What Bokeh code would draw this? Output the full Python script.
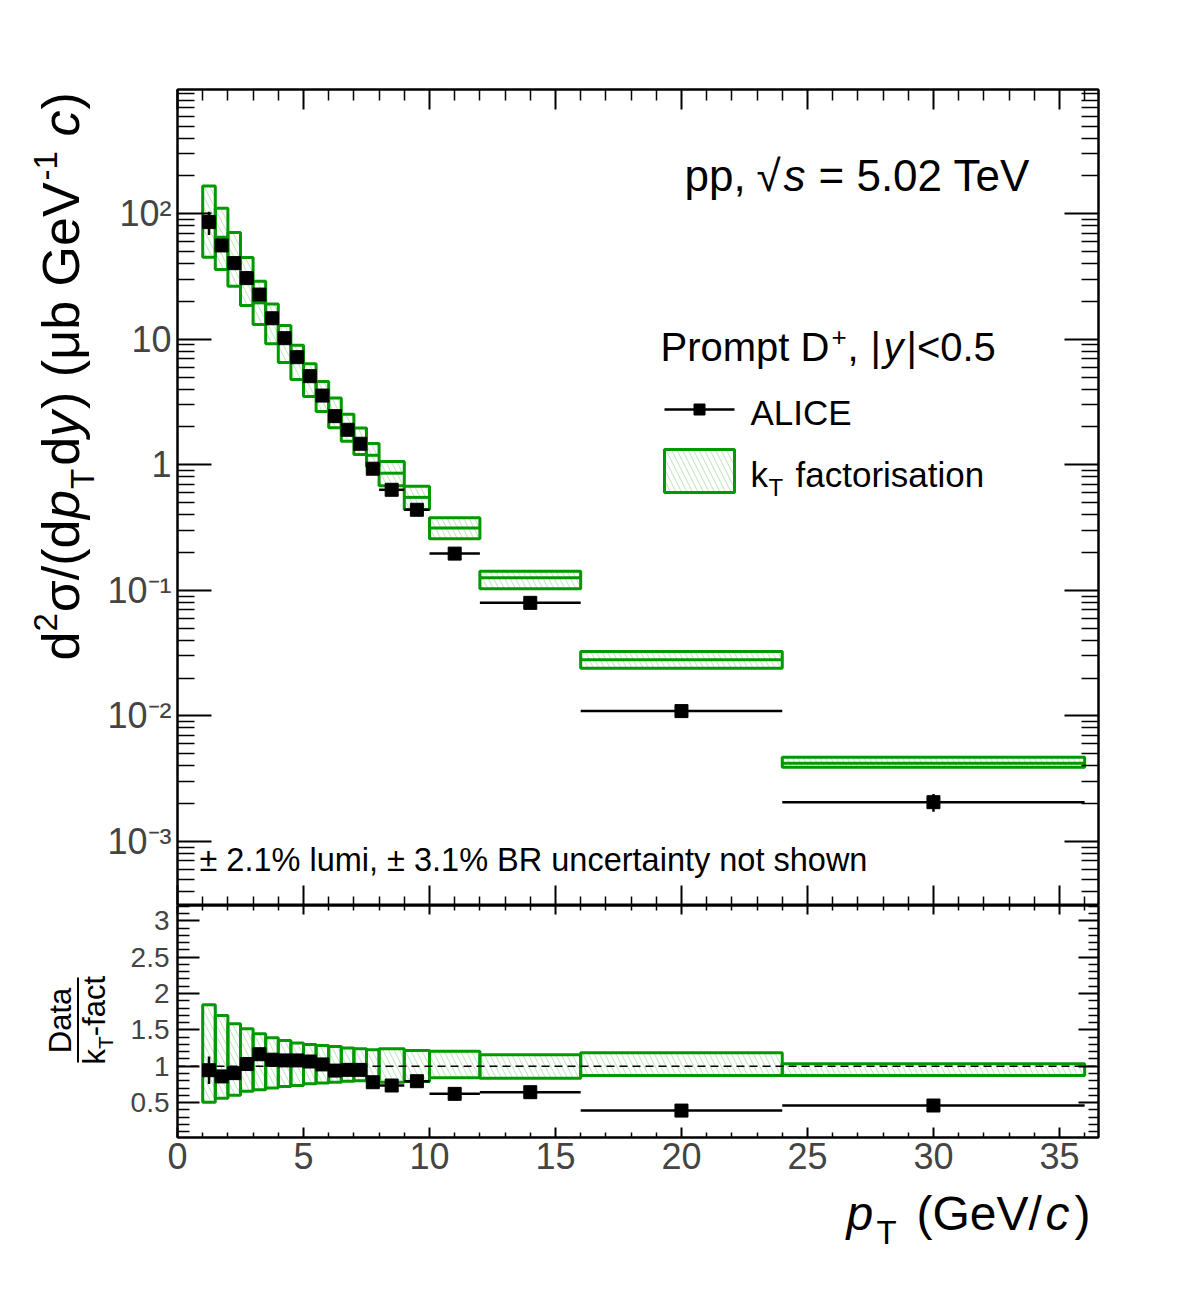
import numpy as np
from bokeh.plotting import figure
from bokeh.layouts import column, row
from bokeh.models import (ColumnDataSource, Range1d, LinearAxis, LogAxis, FixedTicker,
                          CustomJSTickFormatter, Label, Span, BoxAnnotation)
from bokeh.embed import file_html
from bokeh.resources import INLINE

# ---------------------------------------------------------------- data
# pT bins (GeV/c)
pt_low = [1.0, 1.5, 2.0, 2.5, 3.0, 3.5, 4.0, 4.5, 5.0, 5.5, 6.0, 6.5, 7.0, 7.5,
          8.0, 9.0, 10.0, 12.0, 16.0, 24.0]
pt_high = [1.5, 2.0, 2.5, 3.0, 3.5, 4.0, 4.5, 5.0, 5.5, 6.0, 6.5, 7.0, 7.5, 8.0,
           9.0, 10.0, 12.0, 16.0, 24.0, 36.0]

# ALICE prompt D+ cross section (mub GeV^-1 c) and statistical uncertainty
alice = [85.8, 55.9, 40.4, 30.7, 22.7, 14.7, 10.2, 7.2, 5.08, 3.56, 2.44, 1.90,
         1.47, 0.93, 0.632, 0.438, 0.196, 0.0794, 0.0109, 0.00205]
alice_err = [18.0, 3.5, 2.0, 1.4, 1.0, 0.6, 0.4, 0.3, 0.2, 0.15, 0.1, 0.08,
             0.06, 0.05, 0.03, 0.02, 0.01, 0.004, 0.0009, 0.00033]

# kT-factorisation prediction: central value and uncertainty band
kt_central = [90.8, 65.0, 44.6, 29.8, 19.5, 13.5, 9.44, 6.67, 4.77, 3.47, 2.60,
              2.0, 1.55, 1.19, 0.857, 0.55, 0.313, 0.126, 0.0279, 0.00419]
kt_high = [166.0, 110.8, 70.9, 44.9, 29.0, 19.1, 12.9, 8.97, 6.38, 4.61, 3.40,
           2.53, 1.96, 1.48, 1.06, 0.675, 0.378, 0.142, 0.0325, 0.00468]
kt_low = [45.1, 36.0, 26.4, 18.6, 13.1, 9.2, 6.53, 4.79, 3.50, 2.66, 1.97, 1.54,
          1.21, 0.97, 0.68, 0.44, 0.257, 0.1028, 0.0239, 0.00389]

# Data / kT-fact ratio and the relative model band
ratio = [0.945, 0.86, 0.905, 1.03, 1.165, 1.09, 1.08, 1.08, 1.065, 1.025, 0.94,
         0.95, 0.95, 0.78, 0.735, 0.794, 0.62, 0.643, 0.39, 0.46]
ratio_err = [0.19, 0.05, 0.045, 0.045, 0.05, 0.045, 0.04, 0.04, 0.04, 0.04, 0.04,
             0.04, 0.04, 0.04, 0.03, 0.03, 0.03, 0.03, 0.02, 0.07]
band_high = [1.845, 1.697, 1.583, 1.514, 1.446, 1.39, 1.353, 1.32, 1.30, 1.285,
             1.27, 1.25, 1.24, 1.225, 1.24, 1.216, 1.206, 1.157, 1.184, 1.033]
band_low = [0.505, 0.56, 0.60, 0.655, 0.675, 0.70, 0.72, 0.735, 0.76, 0.77, 0.78,
            0.795, 0.80, 0.81, 0.78, 0.79, 0.84, 0.835, 0.872, 0.872]

x_ticks = [0, 5, 10, 15, 20, 25, 30, 35]
y_ticks = [1e-3, 1e-2, 1e-1, 1, 10, 100]
r_ticks = [0.5, 1.0, 1.5, 2.0, 2.5, 3.0]

# ---------------------------------------------------------------- layout
W, H = 1182, 1294
FL, FR = 177, 1098            # frame left / right (page px)
T_TOP, T_BOT = 89, 905        # upper pad frame
R_TOP, R_BOT = 905, 1137      # lower pad frame
R_FIG_H = 278                 # lower pad canvas height
LT_W, LB_W = 102, 120         # title strips left of the pads
X_MAX = 36.55
Y_MIN, Y_MAX = 3.08e-4, 977.0
R_MIN, R_MAX = 0.02, 3.21
GREEN = "#009900"
HATCH = "#7fcf7f"
FONT = "Liberation Sans"
BASE_SHIFT = 0.38             # alphabetic-baseline correction, in font sizes
V = np.pi / 2


def xd(px):
    return (px - FL) / (FR - FL) * X_MAX


def yd_top(py):
    lmax, lmin = np.log10(Y_MAX), np.log10(Y_MIN)
    return 10 ** (lmax - (py - T_TOP) / (T_BOT - T_TOP) * (lmax - lmin))


def ident(v):
    return v


def frame_axis(cls, ticks, minor, major_len, minor_len, label_px=None,
               formatter=None, standoff=8):
    ax = cls(ticker=FixedTicker(ticks=ticks, minor_ticks=minor))
    ax.major_tick_in, ax.major_tick_out = major_len, 0
    ax.minor_tick_in, ax.minor_tick_out = minor_len, 0
    ax.axis_line_width = 2
    ax.major_tick_line_width = 2
    ax.minor_tick_line_width = 1.5
    if label_px:
        ax.major_label_text_font = FONT
        ax.major_label_text_font_size = f"{label_px}px"
        ax.major_label_standoff = standoff
        if formatter is not None:
            ax.formatter = formatter
    else:
        ax.major_label_text_font_size = "0px"
        ax.major_label_standoff = 0
        ax.formatter = CustomJSTickFormatter(code="return ''")
    return ax


def text(fig, px, py, s, size, xconv, yconv, italic=False, angle=0.0, align="left"):
    # px, py: start of the text baseline in page pixels
    if angle:
        px -= BASE_SHIFT * size
    else:
        py -= BASE_SHIFT * size
    fig.add_layout(Label(x=xconv(px), y=yconv(py), text=s, text_font=FONT,
                         text_font_size=f"{size}px",
                         text_font_style="italic" if italic else "normal",
                         angle=angle, text_align=align, text_baseline="alphabetic",
                         text_color="black"))


def strip(width, height, left, frame_top, frame_bottom):
    # blank canvas addressed in page pixels; its frame lines up with the pad
    # next to it, so the y range spans exactly that pad's frame
    f = figure(width=width, height=height, x_range=Range1d(left, left + width),
               y_range=Range1d(frame_bottom, frame_top), x_axis_location=None,
               y_axis_location=None, output_backend="svg", toolbar_location=None,
               min_border=0)
    f.grid.visible = False
    f.outline_line_color = None
    return f


x_minor = [v for v in range(0, 37) if v % 5]
log_minor = [m * 10.0 ** e for e in range(-4, 3) for m in range(2, 10)]
r_minor = [round(0.1 * k, 1) for k in range(1, 33) if k % 5]

pow_fmt = CustomJSTickFormatter(code="""
const e = Math.round(Math.log10(tick));
if (e == 0) return "1";
if (e == 1) return "10";
const sup = {"-": "\u207b", "0": "\u2070", "1": "\u00b9", "2": "\u00b2", "3": "\u00b3",
             "4": "\u2074", "5": "\u2075"};
return "10" + String(e).split("").map(c => sup[c]).join("");
""")
ratio_fmt = CustomJSTickFormatter(code="return String(Math.round(tick * 10) / 10);")

pt_center = [(a + b) / 2 for a, b in zip(pt_low, pt_high)]

box_style = dict(fill_alpha=0, line_color=GREEN, line_width=3,
                 hatch_pattern="\\", hatch_color=HATCH, hatch_alpha=0.55,
                 hatch_weight=1, hatch_scale=11)

# ---------------------------------------------------------------- upper pad
p1 = figure(width=W - LT_W, height=T_BOT, x_range=Range1d(0, X_MAX),
            y_range=Range1d(Y_MIN, Y_MAX), y_axis_type="log",
            x_axis_location=None, y_axis_location=None,
            output_backend="svg", toolbar_location=None,
            min_border_left=FL - LT_W, min_border_right=W - FR,
            min_border_top=T_TOP, min_border_bottom=0)
p1.grid.visible = False
p1.outline_line_color = "black"
p1.outline_line_width = 2

p1.add_layout(frame_axis(LogAxis, y_ticks, log_minor, 34, 17, 36, pow_fmt, 6), "left")
p1.add_layout(frame_axis(LogAxis, y_ticks, log_minor, 34, 17), "right")
p1.add_layout(frame_axis(LinearAxis, x_ticks, x_minor, 20, 11), "above")
p1.add_layout(frame_axis(LinearAxis, x_ticks, x_minor, 20, 9), "below")

top = ColumnDataSource(dict(
    lo=pt_low, hi=pt_high, pt=pt_center, y=alice,
    ylo=[v - e for v, e in zip(alice, alice_err)],
    yhi=[v + e for v, e in zip(alice, alice_err)],
    mc=kt_central, mlo=kt_low, mhi=kt_high))

p1.quad(left="lo", right="hi", bottom="mlo", top="mhi", source=top, **box_style)
p1.segment(x0="lo", x1="hi", y0="mc", y1="mc", source=top, line_color=GREEN, line_width=3)
p1.segment(x0="lo", x1="hi", y0="y", y1="y", source=top, line_color="black", line_width=2.5)
p1.segment(x0="pt", x1="pt", y0="ylo", y1="yhi", source=top, line_color="black", line_width=2.5)
p1.scatter(x="pt", y="y", source=top, marker="square", size=13, color="black")

# legend keys
p1.segment(x0=[xd(664)], x1=[xd(734)], y0=[yd_top(409)], y1=[yd_top(409)],
           line_color="black", line_width=2.5)
p1.scatter(x=[xd(699)], y=[yd_top(409)], marker="square", size=11, color="black")
p1.quad(left=[xd(664)], right=[xd(734)], bottom=[yd_top(492)], top=[yd_top(449)],
        **box_style)

# collision system
text(p1, 684, 192, "pp,", 44, xd, yd_top)
text(p1, 756, 192, "\u221a", 44, xd, yd_top)
text(p1, 783, 192, "s", 44, xd, yd_top, italic=True)
text(p1, 818, 192, "= 5.02 TeV", 44, xd, yd_top)

# legend header and entries
text(p1, 660, 362, "Prompt D", 40, xd, yd_top)
text(p1, 831, 346, "+", 26, xd, yd_top)
text(p1, 847, 362, ",", 40, xd, yd_top)
text(p1, 870, 362, "|", 40, xd, yd_top)
text(p1, 883, 362, "y", 40, xd, yd_top, italic=True)
text(p1, 906, 362, "|<0.5", 40, xd, yd_top)
text(p1, 750, 425, "ALICE", 35, xd, yd_top)
text(p1, 750, 487, "k", 35, xd, yd_top)
text(p1, 768, 496, "T", 24, xd, yd_top)
text(p1, 795, 487, "factorisation", 35, xd, yd_top)

text(p1, 199, 872, "\u00b1 2.1% lumi, \u00b1 3.1% BR uncertainty not shown", 32.5,
     xd, yd_top)

# y-axis title of the upper pad, built piecewise and rotated
lt = strip(LT_W, T_BOT, 0, T_TOP, T_BOT)
title_pieces = [
    (80, 660.0, "d", 52, False),
    (58, 631.1, "2", 33, False),
    (80, 611.8, "\u03c3/(d", 52, False),
    (80, 518.4, "p", 52, True),
    (95, 488.5, "T", 33, False),
    (80, 465.3, "d", 52, False),
    (80, 436.4, "y", 52, True),
    (80, 408.4, ") (\u03bcb GeV", 52, False),
    (58, 179.9, "-1", 33, False),
    (80, 136.1, "c", 52, True),
    (80, 109.1, ")", 52, False),
]
for px, py, s, size, it in title_pieces:
    text(lt, px, py, s, size, ident, ident, italic=it, angle=V)

# ---------------------------------------------------------------- ratio pad
p2 = figure(width=W - LB_W, height=R_FIG_H, x_range=p1.x_range,
            y_range=Range1d(R_MIN, R_MAX),
            x_axis_location=None, y_axis_location=None,
            output_backend="svg", toolbar_location=None,
            min_border_left=FL - LB_W, min_border_right=W - FR,
            min_border_top=0, min_border_bottom=R_FIG_H - (R_BOT - R_TOP))
p2.grid.visible = False
p2.outline_line_color = "black"
p2.outline_line_width = 2

p2.add_layout(frame_axis(LinearAxis, r_ticks, r_minor, 22, 12, 28, ratio_fmt, 8), "left")
p2.add_layout(frame_axis(LinearAxis, r_ticks, r_minor, 20, 10), "right")
p2.add_layout(frame_axis(LinearAxis, x_ticks, x_minor, 9, 5), "above")
p2.add_layout(frame_axis(LinearAxis, x_ticks, x_minor, 10, 5, 36, None, 5), "below")

rat = ColumnDataSource(dict(
    lo=pt_low, hi=pt_high, pt=pt_center, r=ratio,
    rlo=[v - e for v, e in zip(ratio, ratio_err)],
    rhi=[v + e for v, e in zip(ratio, ratio_err)],
    blo=band_low, bhi=band_high))

p2.quad(left="lo", right="hi", bottom="blo", top="bhi", source=rat, **box_style)
p2.add_layout(Span(location=1.0, dimension="width", line_color="black",
                   line_width=1.5, line_dash="8 5"))
p2.segment(x0="lo", x1="hi", y0="r", y1="r", source=rat, line_color="black", line_width=2.5)
p2.segment(x0="pt", x1="pt", y0="rlo", y1="rhi", source=rat, line_color="black", line_width=2.5)
p2.scatter(x="pt", y="r", source=rat, marker="square", size=13, color="black")

# ratio-axis title: Data over kT-fact
lb = strip(LB_W, R_FIG_H, 0, R_TOP, R_BOT)
text(lb, 72, 1020, "Data", 31, ident, ident, angle=V, align="center")
lb.add_layout(BoxAnnotation(left=76.5, right=78.5, bottom=1062, top=977,
                            fill_color="black", fill_alpha=1, line_alpha=0))
text(lb, 106, 1064, "k", 31, ident, ident, angle=V)
text(lb, 113, 1048.5, "T", 21, ident, ident, angle=V)
text(lb, 106, 1035.7, "-fact", 31, ident, ident, angle=V)

# x-axis title
bt_top = R_TOP + R_FIG_H
bt = strip(W, H - bt_top, 0, bt_top, H)
text(bt, 846, 1231, "p", 48, ident, ident, italic=True)
text(bt, 876, 1245, "T", 33, ident, ident)
text(bt, 916, 1231, "(GeV/", 48, ident, ident)
text(bt, 1045, 1231, "c", 48, ident, ident, italic=True)
text(bt, 1074, 1231, ")", 48, ident, ident)

layout = column(row(lt, p1, spacing=0), row(lb, p2, spacing=0), bt, spacing=0)
open("out.html", "w").write(file_html(layout, INLINE))
